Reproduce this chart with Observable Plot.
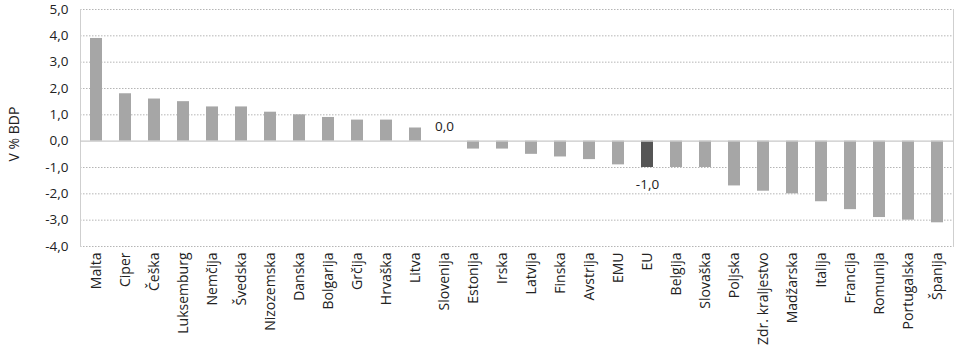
<!DOCTYPE html>
<html>
<head>
<meta charset="utf-8">
<script src="https://cdn.jsdelivr.net/npm/d3@7"></script>
<script src="https://cdn.jsdelivr.net/npm/@observablehq/plot@0.6"></script>
<style>
  html, body { margin: 0; padding: 0; background: #fff; }
  #chart svg { display: block; font-family: "Open Sans", sans-serif; }
  #chart svg text { font-size: 13.5px; }
  #chart svg g[aria-label="x-axis tick label"] text { font-size: 14px; }
  #chart svg g.ylabel text { font-size: 14px; }
</style>
</head>
<body>
<div id="chart"></div>
<script>
const countries = ["Malta","Ciper","Češka","Luksemburg","Nemčija","Švedska","Nizozemska","Danska","Bolgarija","Grčija","Hrvaška","Litva","Slovenija","Estonija","Irska","Latvija","Finska","Avstrija","EMU","EU","Belgija","Slovaška","Poljska","Zdr. kraljestvo","Madžarska","Italija","Francija","Romunija","Portugalska","Španija"];
const values = [3.9,1.8,1.6,1.5,1.3,1.3,1.1,1.0,0.9,0.8,0.8,0.5,0.0,-0.3,-0.3,-0.5,-0.6,-0.7,-0.9,-1.0,-1.0,-1.0,-1.7,-1.9,-2.0,-2.3,-2.6,-2.9,-3.0,-3.1];
const highlighted = ["EU"];
const labelAbove = [{name: "Slovenija", value: 0.0, text: "0,0"}];
const labelBelow = [{name: "EU", value: -1.0, text: "-1,0"}];
const yTicks = [-4,-3,-2,-1,0,1,2,3,4,5];

const data = countries.map((c, i) => ({country: c, value: values[i], hl: highlighted.includes(c)}));
const fmt = d => d.toFixed(1).replace(".", ",");

const chart = Plot.plot({
  width: 960,
  height: 349,
  marginLeft: 80,
  marginRight: 7,
  marginTop: 9,
  marginBottom: 103,
  style: {fontFamily: "Open Sans, sans-serif", fontSize: "13px", color: "#222"},
  x: {domain: countries, paddingInner: 0.6, paddingOuter: 0.3, align: 0.5, label: null},
  y: {domain: [-4, 5], label: null},
  marks: [
    Plot.ruleY(yTicks.filter(d => d !== 0), {stroke: "#b5b5b5", strokeDasharray: "1.5,1.5", strokeWidth: 1}),
    Plot.frame({stroke: "#cfcfcf", anchor: "left"}),
    Plot.frame({stroke: "#cfcfcf", anchor: "right"}),
    Plot.barY(data, {x: "country", y: "value", fill: d => d.hl ? "#555555" : "#a6a6a6"}),
    Plot.ruleY([0], {stroke: "#c8c8c8", strokeWidth: 1.2}),
    Plot.text(labelAbove, {x: "name", y: "value", text: "text", dy: -14, fill: "#222"}),
    Plot.text(labelBelow, {x: "name", y: "value", text: "text", dy: 17, fill: "#222"}),
    Plot.axisY({ticks: yTicks, tickFormat: fmt, tickSize: 0, tickPadding: 12, label: null}),
    Plot.axisX({tickRotate: -90, tickSize: 0, tickPadding: 6, label: null}),
    Plot.text(["V % BDP"], {frameAnchor: "left", textAnchor: "middle", dx: -66, dy: 6, rotate: -90, fill: "#222", className: "ylabel"})
  ]
});
document.getElementById("chart").appendChild(chart);
</script>
</body>
</html>
